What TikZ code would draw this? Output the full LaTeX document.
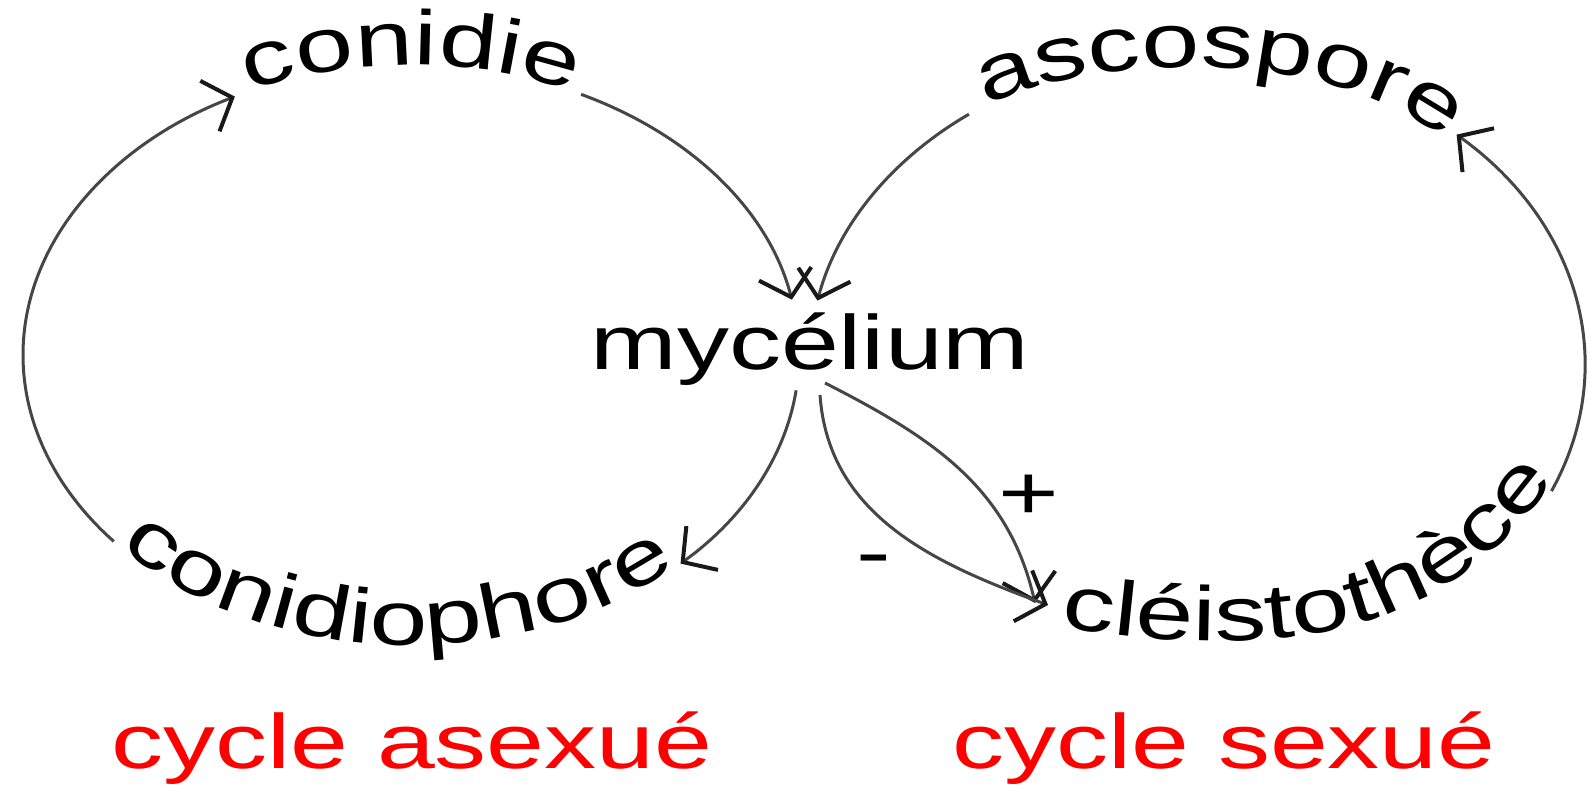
\documentclass[tikz,border=0pt]{standalone}
\usepackage{fontspec}
\setmainfont{Liberation Sans}
\newfontfamily\labfam[FakeStretch=1.35]{Liberation Sans}
\newcommand\labfont{\labfam\fontsize{77}{80}\selectfont}
\usetikzlibrary{arrows.meta,decorations.text}
\definecolor{lineg}{RGB}{70,70,70}
\definecolor{labred}{RGB}{255,0,0}
\begin{document}
\begin{tikzpicture}[x=1pt,y=1pt,
  conn/.style={draw=lineg, line width=3pt, -{Straight Barb[length=24pt,width=54pt,line width=4pt,color=black!90]}},
  lab/.style={font=\labfont, inner sep=0pt, anchor=base},
  redlab/.style={lab, text=labred},
  curved/.style={decorate, decoration={text along path, text align=center, text={#1}}}]
\useasboundingbox (0,0) rectangle (1589,785);
\coordinate (L) at (411,430);
\coordinate (R) at (1197,420);

% labels
\node[lab] (myc) at (810,415) {mycélium};
\node[redlab] (asex) at (412,17) {cycle asexué};
\node[redlab] (sex) at (1224,17) {cycle sexué};
\node[lab] (plus) at (1029,266) {+};
\node[lab] (minus) at (874,207) {-};

% curved texts
\path[curved={|\labfont|conidie}] (L) ++(150:388 and 290) arc[start angle=150,end angle=30,x radius=388,y radius=290];
\path[curved={|\labfont|conidiophore}] (L) ++(197:388 and 290) arc[start angle=197,end angle=337,x radius=388,y radius=290];
\path[curved={|\labfont|ascospore}] (962,667) .. controls (1065,732) and (1340,750) .. (1466,628);
\path[curved={|\labfont|cléistothèce}] (1079,155) .. controls (1277,127) and (1434,145) .. (1544,290);

% left loop
\path (L) ++(220:388 and 290) coordinate (a0);
\draw[conn] (a0) arc[start angle=220,end angle=117,x radius=388,y radius=290];
\path (L) ++(64:388 and 290) coordinate (b0);
\draw[conn] (b0) arc[start angle=64,end angle=11,x radius=388,y radius=290];
\path (L) ++(-7:388 and 290) coordinate (c0);
\draw[conn] (c0) arc[start angle=-7,end angle=-46,x radius=388,y radius=290];

% right loop
\path (R) ++(126:388 and 310) coordinate (d0);
\draw[conn] (d0) arc[start angle=126,end angle=168,x radius=388,y radius=310];
\path (R) ++(-24:388 and 310) coordinate (e0);
\draw[conn] (e0) arc[start angle=-24,end angle=48,x radius=388,y radius=310];

% mycelium -> cleistotheque
\coordinate (p0) at (825,402);
\coordinate (p1) at (1035,182);
\coordinate (m0) at (820,390);
\coordinate (m1) at (1048,180);
\draw[conn] (p0) to[out=-27,in=103] (p1);
\draw[conn] (m0) to[out=-86,in=160] (m1);
\end{tikzpicture}
\end{document}
